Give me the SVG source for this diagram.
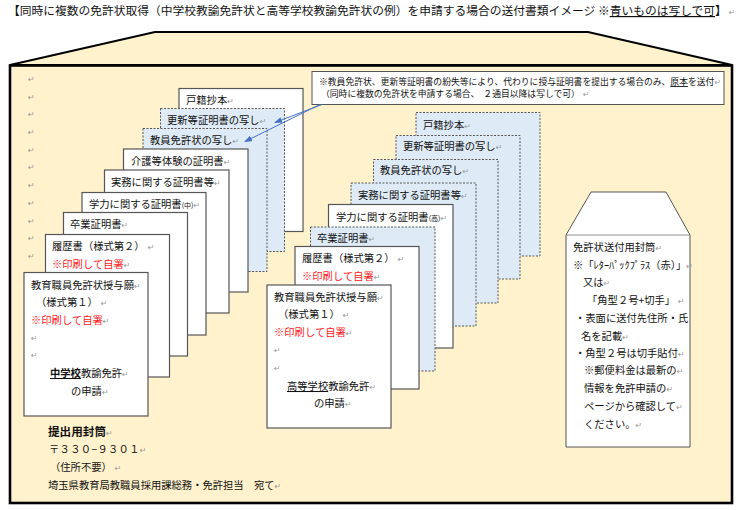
<svg xmlns="http://www.w3.org/2000/svg" width="740" height="510" viewBox="0 0 740 510">
<style>
text{font-family:"Noto Sans CJK JP","Liberation Sans",sans-serif;font-size:10.3px;fill:#111}
.r{font-family:"DejaVu Sans",sans-serif;font-size:8px;fill:#999}
.red{fill:#f22}
.sheet{fill:#fff;stroke:#555;stroke-width:1.2}
.copy{fill:#deebf7;stroke:#555;stroke-width:1;stroke-dasharray:2 1.5}
.t{font-size:11.75px}
.c{font-size:8.8px}
.b{font-weight:700}
.h{font-size:11.6px;font-weight:700}
.u{text-decoration:underline}
.l{stroke:#4472c4;stroke-width:1;fill:none;marker-end:url(#ah)}
</style>
<defs>
<marker id="ah" markerWidth="8" markerHeight="6" refX="7" refY="3" orient="auto" markerUnits="userSpaceOnUse"><path d="M0 0L8 3L0 6z" fill="#4472c4"/></marker>
</defs>
<rect width="740" height="510" fill="#fff"/>
<text id="title" class="t" x="8" y="15">【同時に複数の免許状取得（中学校教諭免許状と高等学校教諭免許状の例）を申請する場合の送付書類イメージ ※<tspan class="u">青いものは写しで可</tspan>】<tspan class="r" dx="2">↵</tspan></text>
<g id="outer-envelope">
<path d="M155 32H588L732 65H10z" fill="#fff2cc" stroke="#000" stroke-width="2"/>
<rect x="10" y="65.500" width="722" height="437.500" fill="#fff2cc" stroke="#000" stroke-width="2.600"/>
<text class="r" x="28" y="82">↵</text><text class="r" x="28" y="100">↵</text><text class="r" x="28" y="117">↵</text><text class="r" x="28" y="135">↵</text><text class="r" x="28" y="153">↵</text><text class="r" x="28" y="170">↵</text><text class="r" x="28" y="188">↵</text><text class="r" x="28" y="206">↵</text><text class="r" x="28" y="224">↵</text><text class="r" x="28" y="241">↵</text><text class="r" x="28" y="259">↵</text>
</g>
<g id="left-stack">
<g id="l-koseki"><rect class="sheet" x="179" y="88.500" width="124" height="143"/><text x="186" y="104">戸籍抄本<tspan class="r">↵</tspan></text></g>
<g id="l-koshin"><rect class="copy" x="160.500" y="108.500" width="124" height="143"/><text x="167" y="124">更新等証明書の写し<tspan class="r">↵</tspan></text></g>
<g id="l-menkyo"><rect class="copy" x="143" y="128.500" width="124" height="143"/><text x="150" y="144">教員免許状の写し<tspan class="r">↵</tspan></text></g>
<g id="l-kaigo"><rect class="sheet" x="123.500" y="149" width="124.500" height="143"/><text x="131" y="165">介護等体験の証明書<tspan class="r">↵</tspan></text></g>
<g id="l-jitsumu"><rect class="sheet" x="104.500" y="170" width="124.500" height="143"/><text x="111" y="186">実務に関する証明書等<tspan class="r">↵</tspan></text></g>
<g id="l-gakuryoku"><rect class="sheet" x="82" y="192.500" width="124" height="142.500"/><text x="89" y="208">学力に関する証明書<tspan font-size="7">(中)</tspan><tspan class="r">↵</tspan></text></g>
<g id="l-sotsugyo"><rect class="sheet" x="63.500" y="212.500" width="124" height="143.500"/><text x="70" y="228">卒業証明書<tspan class="r">↵</tspan></text></g>
<g id="l-rireki"><rect class="sheet" x="45.500" y="234.500" width="124" height="142.500"/><text x="52" y="250">履歴書（様式第２）<tspan class="r" dx="3">↵</tspan></text><text class="red" x="52" y="268">※印刷して自署<tspan class="r">↵</tspan></text></g>
<g id="l-gan"><rect class="sheet" x="24" y="272.500" width="124" height="143.500"/><text x="31" y="289">教育職員免許状授与願<tspan class="r">↵</tspan></text><text x="36" y="306">（様式第１）<tspan class="r" dx="3">↵</tspan></text><text class="red" x="31" y="324">※印刷して自署<tspan class="r">↵</tspan></text><text class="r" x="31" y="341">↵</text><text class="r" x="31" y="358">↵</text><text x="50" y="377"><tspan class="b u">中学校</tspan>教諭免許<tspan class="r">↵</tspan></text><text x="71" y="395">の申請<tspan class="r">↵</tspan></text></g>
</g>
<g id="mail-label"><text class="h" x="48" y="436">提出用封筒<tspan class="r" font-weight="400">↵</tspan></text><text x="49" y="453" letter-spacing="0.300">〒３３０−９３０１<tspan class="r">↵</tspan></text><text x="50" y="471">（住所不要）<tspan class="r" dx="3">↵</tspan></text><text x="48" y="489">埼玉県教育局教職員採用課総務・免許担当　宛て<tspan class="r">↵</tspan></text></g>
<g id="right-stack">
<g id="r-koseki"><rect class="copy" x="416" y="112.500" width="124" height="143.500"/><text x="423" y="129">戸籍抄本<tspan class="r">↵</tspan></text></g>
<g id="r-koshin"><rect class="copy" x="396" y="135.500" width="124" height="143.500"/><text x="403" y="150">更新等証明書の写し<tspan class="r">↵</tspan></text></g>
<g id="r-menkyo"><rect class="copy" x="373.500" y="159.500" width="124.500" height="143.500"/><text x="380" y="174">教員免許状の写し<tspan class="r">↵</tspan></text></g>
<g id="r-jitsumu"><rect class="copy" x="351" y="183" width="125" height="143"/><text x="358" y="199">実務に関する証明書等<tspan class="r">↵</tspan></text></g>
<g id="r-gakuryoku"><rect class="sheet" x="328.500" y="204.500" width="124.500" height="143.500"/><text x="336" y="221">学力に関する証明書<tspan font-size="7">(高)</tspan><tspan class="r">↵</tspan></text></g>
<g id="r-sotsugyo"><rect class="copy" x="310.500" y="227" width="124.500" height="144"/><text x="317" y="242">卒業証明書<tspan class="r">↵</tspan></text></g>
<g id="r-rireki"><rect class="sheet" x="295" y="246.500" width="124" height="142.500"/><text x="302" y="262">履歴書（様式第２）<tspan class="r" dx="3">↵</tspan></text><text class="red" x="302" y="280">※印刷して自署<tspan class="r">↵</tspan></text></g>
<g id="r-gan"><rect class="sheet" x="267" y="285" width="124" height="143"/><text x="274" y="301">教育職員免許状授与願<tspan class="r">↵</tspan></text><text x="278" y="318">（様式第１）<tspan class="r" dx="3">↵</tspan></text><text class="red" x="274" y="336">※印刷して自署<tspan class="r">↵</tspan></text><text class="r" x="274" y="353">↵</text><text class="r" x="274" y="371">↵</text><text x="287" y="390"><tspan class="u">高等学校</tspan>教諭免許<tspan class="r">↵</tspan></text><text x="314" y="407">の申請<tspan class="r">↵</tspan></text></g>
</g>
<g id="return-envelope">
<path d="M591 192H666L690 235V447H566V235z" fill="#fff" stroke="#555" stroke-width="1"/>
<path d="M566 235H690" fill="none" stroke="#777" stroke-width="0.800"/>
<text x="573" y="251">免許状送付用封筒<tspan class="r">↵</tspan></text>
<text x="573" y="269">※「ﾚﾀｰﾊﾟｯｸﾌﾟﾗｽ（赤）」<tspan class="r">↵</tspan></text>
<text x="583" y="286">又は<tspan class="r">↵</tspan></text>
<text x="587" y="304">「角型２号+切手」<tspan class="r" dx="3">↵</tspan></text>
<text x="575" y="322">・表面に送付先住所・氏</text>
<text x="581" y="340">名を記載<tspan class="r">↵</tspan></text>
<text x="575" y="357">・角型２号は切手貼付<tspan class="r">↵</tspan></text>
<text x="584" y="374">※郵便料金は最新の<tspan class="r">↵</tspan></text>
<text x="584" y="392">情報を免許申請の<tspan class="r">↵</tspan></text>
<text x="584" y="410">ページから確認して<tspan class="r">↵</tspan></text>
<text x="584" y="428">ください。<tspan class="r">↵</tspan></text>
</g>
<g id="callout"><rect x="312" y="71.500" width="412" height="33" fill="#fff" stroke="#555" stroke-width="1"/>
<text class="c" x="319" y="85">※教員免許状、更新等証明書の紛失等により、代わりに授与証明書を提出する場合のみ、<tspan class="u">原本</tspan>を送付<tspan class="r">↵</tspan></text>
<text class="c" x="321" y="97">（同時に複数の免許状を申請する場合、<tspan dx="4">２通目以降は写しで可）</tspan><tspan class="r" dx="3">↵</tspan></text></g>
<g id="connectors"><path class="l" d="M322 104.500L275 122.500"/><path class="l" d="M320 104.500L245 141.500"/></g>
</svg>
